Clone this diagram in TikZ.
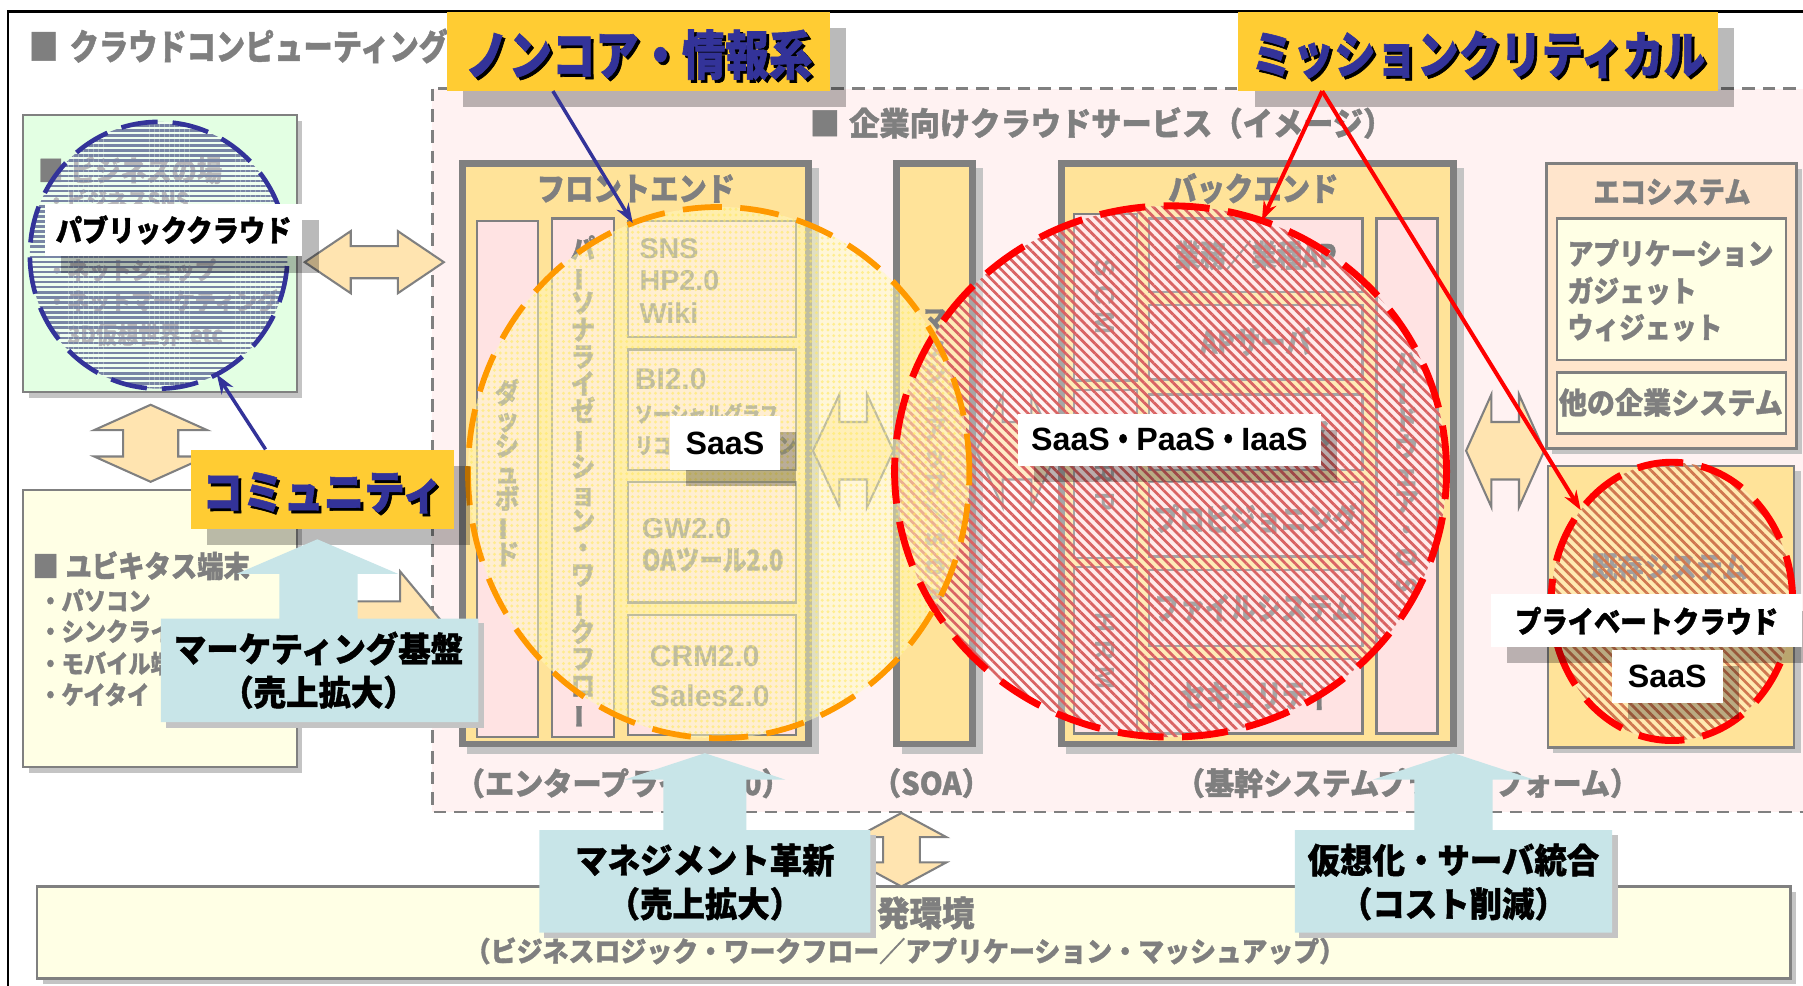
\documentclass[tikz,border=0pt]{standalone}
\usepackage{fontspec}
\usepackage{graphicx}
\setmainfont{Noto Sans CJK JP}
\newfontfamily\jpA{Noto Sans CJK JP}[FakeStretch=0.82,BoldFeatures={FakeBold=1.2}]
\newfontfamily\jpB{Noto Sans CJK JP}[FakeStretch=0.88,BoldFeatures={FakeBold=1.2}]
\newfontfamily\jpC{Noto Sans CJK JP}[FakeStretch=0.94,BoldFeatures={FakeBold=1.2}]
\newfontfamily\lat{Liberation Sans}
\usetikzlibrary{shapes.geometric,patterns.meta,arrows.meta,calc}
\definecolor{tgray}{HTML}{7F7F7F}
\definecolor{bgray}{HTML}{808080}
\definecolor{shgray}{HTML}{C4C4C4}
\definecolor{pinkbg}{HTML}{FFF2F2}
\definecolor{pinkbox}{HTML}{FFE3E3}
\definecolor{orbox}{HTML}{FFE399}
\definecolor{greenbox}{HTML}{E3FFE3}
\definecolor{ylbox}{HTML}{FFFFE5}
\definecolor{peach}{HTML}{FFE5CC}
\definecolor{labely}{HTML}{FFCC33}
\definecolor{navy}{HTML}{333399}
\definecolor{cyanc}{HTML}{C8E5E8}
\definecolor{arrfill}{HTML}{FFE4B0}
\definecolor{orc}{HTML}{FF9900}
\definecolor{stred}{HTML}{D96363}
\definecolor{stblue}{HTML}{7885A5}
\definecolor{stbrown}{HTML}{D07850}
\definecolor{ylfill}{HTML}{FFFAC0}
\definecolor{yldots}{HTML}{FFEA60}

\newcommand\fsz[1]{\fontsize{#1}{#1}\selectfont}
\newcommand\vb{\rotatebox[origin=c]{90}{ー}}
\newcommand\rl[1]{\rotatebox[origin=c]{-90}{#1}}
% horizontal double arrow: x1,x2,yc,headlen,headhalf,shafthalf
\newcommand\harr[6]{\draw[dblarrow] (#1,#3) -- ({#1+#4},{#3-#5}) -- ({#1+#4},{#3-#6}) -- ({#2-#4},{#3-#6}) -- ({#2-#4},{#3-#5}) -- (#2,#3) -- ({#2-#4},{#3+#5}) -- ({#2-#4},{#3+#6}) -- ({#1+#4},{#3+#6}) -- ({#1+#4},{#3+#5}) -- cycle;}
% vertical double arrow: y1,y2,xc,headlen,headhalf,shafthalf
\newcommand\varr[6]{\draw[dblarrow] (#3,#1) -- ({#3+#5},{#1+#4}) -- ({#3+#6},{#1+#4}) -- ({#3+#6},{#2-#4}) -- ({#3+#5},{#2-#4}) -- (#3,#2) -- ({#3-#5},{#2-#4}) -- ({#3-#6},{#2-#4}) -- ({#3-#6},{#1+#4}) -- ({#3-#5},{#1+#4}) -- cycle;}
% white label with shadow: name,cx,cy,w,h,content
\newcommand\wlabel[6]{\fill[lshadow] ({#2-#4/2+14},{#3-#5/2+14}) rectangle ({#2+#4/2+14},{#3+#5/2+14});
 \node[fill=white,minimum width=#4pt,minimum height=#5pt,inner sep=0pt] (#1) at (#2,#3) {#6};}
% yellow heading label: name,cx,cy,w,h,font,text
\newcommand\ylabel[7]{\fill[lshadow] ({#2-#4/2+14},{#3-#5/2+14}) rectangle ({#2+#4/2+14},{#3+#5/2+14});
 \node[fill=labely,minimum width=#4pt,minimum height=#5pt,inner sep=0pt] (#1) at (#2,#3) {};
 \node[font=#6,text=black,inner sep=0pt] (#1s) at ({#2+2.5},{#3+5.5}) {#7};
 \node[font=#6,text=navy,inner sep=0pt] (#1t) at (#2,{#3+3}) {#7};}

\begin{document}
\begin{tikzpicture}[x=1pt,y=-1pt,
  gt/.style={text=tgray,inner sep=0pt},
  inbox/.style={draw=bgray,line width=2pt,fill=pinkbox},
  fatbox/.style={draw=bgray,line width=6pt,fill=orbox},
  dblarrow/.style={fill=arrfill,draw=bgray,line width=1.8pt,line join=miter},
  boxshadow/.style={fill=shgray},
  lshadow/.style={fill=black,opacity=0.27},
  bluecon/.style={draw=navy,line width=3pt,-{Stealth[length=17pt,width=12pt]}},
  redcon/.style={draw=red,line width=3.5pt,-{Stealth[length=17pt,width=12pt]}},
  callout/.style={fill=cyanc},
  circ/.style={ellipse,inner sep=0pt,outer sep=0pt},
]
\clip (0,0) rectangle (1568,857);
\fill[white] (0,0) rectangle (1568,857);

% enterprise cloud region
\draw[fill=pinkbg,draw=bgray,line width=2pt,dash pattern=on 11pt off 7pt] (376,77) rectangle (1600,706);
% outer frame
\draw[black,line width=2.5pt] (7,10) rectangle (1600,900);

% titles
\node[gt,anchor=west,font=\jpA\bfseries\fsz{31}] (title) at (25,40) {■\hspace{10pt}クラウドコンピューティング};
\node[gt,anchor=west,font=\jpC\bfseries\fsz{28}] (ptitle) at (704,107) {■\hspace{8pt}企業向けクラウドサービス（イメージ）};

% business place box
\fill[boxshadow] (25,105) rectangle (263,346);
\draw[fill=greenbox,draw=bgray,line width=2pt] (20,100) rectangle (258,341);
\node[gt,anchor=west,font=\jpB\bfseries\fsz{25}] (g1) at (33,148) {■\hspace{6pt}ビジネスの場};
\node[gt,anchor=west,font=\jpB\bfseries\fsz{20}] (g2) at (40,174) {・ビジネスSNS};
\node[gt,anchor=west,font=\jpB\bfseries\fsz{21}] (g3) at (40,235) {・ネットショップ};
\node[gt,anchor=west,font=\jpB\bfseries\fsz{21}] (g4) at (40,262) {・ネットマーケティング};
\node[gt,anchor=west,font=\jpB\bfseries\fsz{21}] (g5) at (40,291) {・3D仮想世界\hspace{8pt}etc};

% ubiquitous box
\fill[boxshadow] (25,431) rectangle (263,672);
\draw[fill=ylbox,draw=bgray,line width=2pt] (20,426) rectangle (258,667);
\node[gt,anchor=west,font=\jpB\bfseries\fsz{26}] (u1) at (28,492) {■\hspace{6pt}ユビキタス端末};
\node[gt,anchor=west,font=\jpB\bfseries\fsz{22}] (u2) at (34,522) {・パソコン};
\node[gt,anchor=west,font=\jpB\bfseries\fsz{22}] (u3) at (34,549) {・シンクライアント};
\node[gt,anchor=west,font=\jpB\bfseries\fsz{22}] (u4) at (34,577) {・モバイル端末};
\node[gt,anchor=west,font=\jpB\bfseries\fsz{22}] (u5) at (34,604) {・ケイタイ};

% left double arrows
\harr{265}{386}{228}{40}{27}{14}
\varr{352}{419}{131}{22}{49}{24}
\harr{262}{388}{545}{40}{48}{22}

% front end
\fill[boxshadow] (406,146) rectangle (712,656);
\draw[fatbox] (402,142) rectangle (703,647);
\node[gt,font=\jpB\bfseries\fsz{28}] (fe) at (553,164) {フロントエンド};
\draw[inbox] (415,192) rectangle (468,641);
\draw[inbox] (480,190) rectangle (534,641);
\draw[inbox] (546,192) rectangle (692,293);
\draw[inbox] (546,304) rectangle (692,409);
\draw[inbox] (546,419) rectangle (692,524);
\draw[inbox] (546,535) rectangle (692,639);
\node[gt,align=center,font=\jpB\bfseries\fontsize{24}{23}\selectfont] (dash) at (441,411) {ダ\\ッ\\シ\\ュ\\ボ\\\vb\\ド};
\node[gt,align=center,font=\jpB\bfseries\fontsize{24}{23.5}\selectfont] (pers) at (507,419) {パ\\\vb\\ソ\\ナ\\ラ\\イ\\ゼ\\\vb\\シ\\ョ\\ン\\・\\ワ\\\vb\\ク\\フ\\ロ\\\vb};
\node[gt,anchor=west,font=\lat\bfseries\fsz{25}] (f1) at (556,216) {SNS};
\node[gt,anchor=west,font=\lat\bfseries\fsz{25}] (f2) at (556,244) {HP2.0};
\node[gt,anchor=west,font=\lat\bfseries\fsz{25}] (f3) at (556,272) {Wiki};
\node[gt,anchor=west,font=\lat\bfseries\fsz{26}] (f4) at (552,330) {BI2.0};
\node[gt,anchor=west,font=\jpA\bfseries\fsz{19}] (f5) at (552,360) {ソーシャルグラフ};
\node[gt,anchor=west,font=\jpA\bfseries\fsz{19}] (f6) at (552,387) {リコメンデーション};
\node[gt,anchor=west,font=\lat\bfseries\fsz{25}] (f7) at (558,460) {GW2.0};
\node[gt,anchor=west,font=\jpA\bfseries\fsz{25}] (f8) at (558,487) {OAツール2.0};
\node[gt,anchor=west,font=\lat\bfseries\fsz{26}] (f9) at (565,571) {CRM2.0};
\node[gt,anchor=west,font=\lat\bfseries\fsz{26}] (f10) at (565,605) {Sales2.0};

% SOA column
\fill[boxshadow] (784,146) rectangle (855,656);
\draw[fatbox] (780,142) rectangle (846,647);
\node[gt,align=center,font=\jpB\bfseries\fontsize{22}{24}\selectfont] (soacol) at (813,397) {マ\\ッ\\シ\\ュ\\ア\\ッ\\プ\\\rl{／}\\\rl{S}\\\rl{O}\\\rl{A}};

% back end
\fill[boxshadow] (927,146) rectangle (1273,656);
\draw[fatbox] (923,142) rectangle (1264,647);
\node[gt,font=\jpB\bfseries\fsz{28}] (be) at (1090,164) {バックエンド};
\draw[inbox] (934,186) rectangle (989,331);
\draw[inbox] (934,339) rectangle (989,485);
\draw[inbox] (934,493) rectangle (989,638);
\draw[inbox] (999,190) rectangle (1185,254);
\draw[inbox] (999,265) rectangle (1185,330);
\draw[inbox] (999,343) rectangle (1185,409);
\draw[inbox] (999,419) rectangle (1185,484);
\draw[inbox] (999,496) rectangle (1185,562);
\draw[inbox] (999,573) rectangle (1185,638);
\draw[inbox] (1197,190) rectangle (1250,638);
\node[gt,align=center,font=\lat\bfseries\fontsize{24}{24}\selectfont] (scm) at (961,258) {\rl{S}\\\rl{C}\\\rl{M}};
\node[gt,align=center,font=\lat\bfseries\fontsize{24}{24}\selectfont] (erp) at (961,412) {\rl{E}\\\rl{R}\\\rl{P}};
\node[gt,align=center,font=\lat\bfseries\fontsize{24}{24}\selectfont] (hrm) at (961,566) {\rl{H}\\\rl{R}\\\rl{M}};
\node[gt,font=\jpA\bfseries\fsz{27}] (b1) at (1092,222) {業務／業種AP};
\node[gt,font=\jpA\bfseries\fsz{27}] (b2) at (1092,297) {APサーバ};
\node[gt,font=\jpA\bfseries\fsz{27}] (b3) at (1092,376) {データベース};
\node[gt,font=\jpA\bfseries\fsz{27}] (b4) at (1092,451) {プロビジョニング};
\node[gt,font=\jpA\bfseries\fsz{27}] (b5) at (1092,529) {ファイルシステム};
\node[gt,font=\jpA\bfseries\fsz{27}] (b6) at (1092,605) {セキュリティ};
\node[gt,align=center,font=\jpB\bfseries\fontsize{24}{24}\selectfont] (hw) at (1223,412) {ハ\\\vb\\ド\\ウ\\ェ\\ア\\・\\\rl{O}\\\rl{S}};

% ecosystem
\fill[boxshadow] (1350,147) rectangle (1567,395);
\draw[fill=peach,draw=bgray,line width=2.5pt] (1345,142) rectangle (1562,390);
\node[gt,font=\jpB\bfseries\fsz{26}] (eco) at (1454,167) {エコシステム};
\draw[fill=ylbox,draw=bgray,line width=2pt] (1354,190) rectangle (1553,313);
\draw[fill=ylbox,draw=bgray,line width=2pt] (1354,324) rectangle (1553,377);
\node[gt,anchor=west,font=\jpB\bfseries\fsz{25.5}] (e1) at (1363,220) {アプリケーション};
\node[gt,anchor=west,font=\jpB\bfseries\fsz{25.5}] (e2) at (1363,253) {ガジェット};
\node[gt,anchor=west,font=\jpB\bfseries\fsz{25.5}] (e3) at (1363,285) {ウィジェット};
\node[gt,font=\jpC\bfseries\fsz{26}] (e4) at (1453,350) {他の企業システム};
% existing system
\fill[boxshadow] (1351,410) rectangle (1566,655);
\draw[fill=orbox,draw=bgray,line width=2pt] (1346,405) rectangle (1560,650);
\node[gt,font=\jpB\bfseries\fsz{26}] (exs) at (1452,493) {既存システム};

% middle double arrows
\harr{707}{777}{392}{23}{49}{25}
\harr{849}{920}{392}{23}{49}{25}
\harr{1275}{1343}{392}{22}{49}{25}

% bottom labels of region
\node[gt,font=\jpC\bfseries\fsz{27}] (l1) at (542,681) {（エンタープライズ2.0）};
\node[gt,font=\jpC\bfseries\fsz{27}] (l2) at (810,681) {（SOA）};
\node[gt,font=\jpC\bfseries\fsz{27}] (l3) at (1224,681) {（基幹システムプラットフォーム）};

% development environment
\fill[boxshadow] (37,776) rectangle (1562,856);
\draw[fill=ylbox,draw=bgray,line width=2pt] (32,771) rectangle (1557,851);
\node[gt,font=\jpC\bfseries\fsz{30}] (dev) at (791,794) {開発環境};
\node[gt,font=\jpC\bfseries\fsz{24}] (dev2) at (787,827) {（ビジネスロジック・ワークフロー／アプリケーション・マッシュアップ）};
\varr{707}{771}{784}{21}{39}{16}

% cloud circles: fills
\node[circ,minimum width=224pt,minimum height=232pt,fill=white,fill opacity=0.45,
  postaction={fill opacity=0.9,pattern={Lines[angle=0,distance=4.4pt,line width=2.2pt]},pattern color=stblue}] (bluec) at (138,222) {};
\node[circ,minimum width=480pt,minimum height=462pt,fill=white,fill opacity=0.3,
  postaction={fill opacity=0.75,pattern={Lines[angle=-45,distance=6pt,line width=2.4pt]},pattern color=stred}] (redc) at (1018,410) {};
\node[circ,minimum width=210pt,minimum height=242pt,fill=white,fill opacity=0.25,
  postaction={fill opacity=0.75,pattern={Lines[angle=-45,distance=6pt,line width=2.4pt]},pattern color=stbrown}] (privc) at (1454,523) {};
\node[circ,minimum width=436pt,minimum height=462pt,fill=ylfill,fill opacity=0.5,
  postaction={fill opacity=0.6,pattern={Dots[distance=5pt,radius=1.4pt]},pattern color=yldots}] (orc) at (625,411) {};
% cloud circles: dashed borders
\draw[navy,line width=4pt,dash pattern=on 32pt off 13pt] (bluec.center) ellipse [x radius=112pt,y radius=116pt];
\draw[red,line width=6pt,dash pattern=on 40pt off 16pt] (redc.center) ellipse [x radius=240pt,y radius=231pt];
\draw[red,line width=6pt,dash pattern=on 40pt off 16pt] (privc.center) ellipse [x radius=105pt,y radius=121pt];
\draw[orc,line width=5pt,dash pattern=on 34pt off 16pt] (orc.center) ellipse [x radius=218pt,y radius=231pt];

% white labels
\wlabel{pub}{151}{200}{224}{46}{\jpB\bfseries\fsz{26}パブリッククラウド}
\wlabel{saas1}{630.5}{385.5}{95}{47}{\lat\bfseries\fsz{28}SaaS}
\wlabel{spi}{1017}{382.5}{264}{45}{\lat\bfseries\fsz{28}SaaS{\jpA ・}PaaS{\jpA ・}IaaS}
\wlabel{priv}{1432}{540}{271}{46}{\jpB\bfseries\fsz{26}プライベートクラウド}
\wlabel{saas2}{1450}{588}{96}{46}{\lat\bfseries\fsz{28}SaaS}

% heading labels
\ylabel{nonc}{555.5}{44.5}{333}{69}{\jpA\bfseries\fsz{46}}{ノンコア・情報系}
\ylabel{mis}{1285.5}{44.5}{417}{69}{\jpA\bfseries\fsz{44}}{ミッションクリティカル}
\ylabel{comm}{280.5}{425.5}{229}{69}{\jpB\bfseries\fsz{40}}{コミュニティ}

% connectors
\draw[bluecon] ($(nonc.south west)!0.276!(nonc.south east)$) -- (orc.109);
\draw[bluecon] ($(comm.north west)!0.284!(comm.north east)$) -- (bluec.-64);
\draw[redcon] ($(mis.south west)!0.175!(mis.south east)$) -- (redc.70);
\draw[redcon] ($(mis.south west)!0.175!(mis.south east)$) -- (privc.135);

% callout arrows
\fill[boxshadow] (144,542) rectangle (421,633);
\fill[callout] (276,469) -- (346,499) -- (311,499) -- (311,538) -- (416,538) -- (416,628) -- (140,628) -- (140,538) -- (243,538) -- (243,499) -- (206,499) -- cycle;
\node[font=\jpC\bfseries\fsz{30},inner sep=0pt] (mk1) at (277,564) {マーケティング基盤};
\node[font=\jpC\bfseries\fsz{30},inner sep=0pt] (mk2) at (277,602) {（売上拡大）};

\fill[boxshadow] (473,726) rectangle (762,816);
\fill[callout] (613,655) -- (683,678) -- (649,678) -- (649,722) -- (757,722) -- (757,811) -- (469,811) -- (469,722) -- (577,722) -- (577,678) -- (543,678) -- cycle;
\node[font=\jpC\bfseries\fsz{30},inner sep=0pt] (mg1) at (613,748) {マネジメント革新};
\node[font=\jpC\bfseries\fsz{30},inner sep=0pt] (mg2) at (613,786) {（売上拡大）};

\fill[boxshadow] (1130,726) rectangle (1407,816);
\fill[callout] (1264,655) -- (1334,678) -- (1298,678) -- (1298,722) -- (1402,722) -- (1402,811) -- (1126,811) -- (1126,722) -- (1230,722) -- (1230,678) -- (1194,678) -- cycle;
\node[font=\jpC\bfseries\fsz{30},inner sep=0pt] (vt1) at (1264,748) {仮想化・サーバ統合};
\node[font=\jpC\bfseries\fsz{30},inner sep=0pt] (vt2) at (1264,786) {（コスト削減）};
\end{tikzpicture}
\end{document}
